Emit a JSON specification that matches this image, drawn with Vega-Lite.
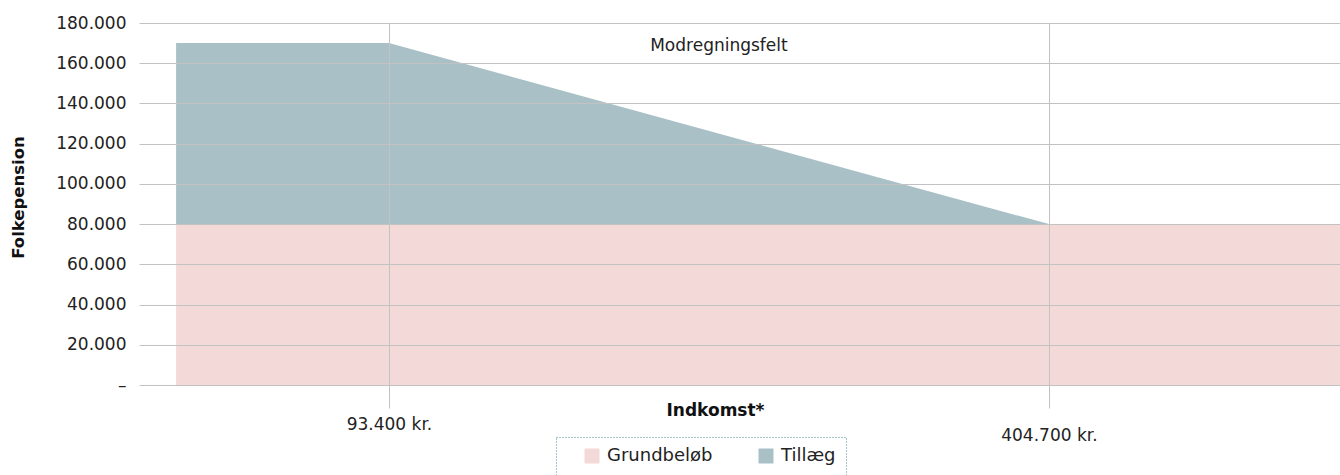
{
  "$schema": "https://vega.github.io/schema/vega-lite/v6.json",
  "width": 1201,
  "height": 362,
  "autosize": {"type": "none"},
  "padding": {"left": 139, "top": 23, "right": 0, "bottom": 90},
  "config": {
    "view": {"stroke": null},
    "font": "DejaVu Sans",
    "axis": {"labelFont": "DejaVu Sans", "titleFont": "DejaVu Sans", "labelColor": "#222222", "titleColor": "#111111"},
    "legend": {"strokeDash": [1, 2], "strokeWidth": 1}
  },
  "datasets": {
    "pension": [
      {"indkomst": -7000, "pension": 80000, "type": "Grundbeløb"},
      {"indkomst": 93400, "pension": 80000, "type": "Grundbeløb"},
      {"indkomst": 404700, "pension": 80000, "type": "Grundbeløb"},
      {"indkomst": 542000, "pension": 80000, "type": "Grundbeløb"},
      {"indkomst": -7000, "pension": 90000, "type": "Tillæg"},
      {"indkomst": 93400, "pension": 90000, "type": "Tillæg"},
      {"indkomst": 404700, "pension": 0, "type": "Tillæg"},
      {"indkomst": 542000, "pension": 0, "type": "Tillæg"}
    ],
    "notes": [
      {"indkomst": 249050, "pension": 168500, "label": "Modregningsfelt"}
    ]
  },
  "layer": [
    {
      "data": {"name": "pension"},
      "mark": {"type": "area", "interpolate": "linear"},
      "encoding": {
        "x": {
          "field": "indkomst", "type": "quantitative",
          "scale": {"domain": [-24500, 542000], "nice": false, "zero": false},
          "axis": {
            "values": [93400, 404700],
            "labelExpr": "replace(format(datum.value, ','), ',', '.') + ' kr.'",
            "grid": true, "gridColor": "#c2c2c2", "gridWidth": 1,
            "ticks": true, "tickSize": 23, "tickColor": "#c2c2c2",
            "domain": false, "zindex": 1,
            "labelFontSize": 17,
            "labelPadding": {"condition": {"test": "datum.value > 200000", "value": 19}, "value": 8},
            "title": "Indkomst*",
            "titleFontSize": 17, "titleFontWeight": "bold",
            "titleX": 576, "titleY": 30, "titleBaseline": "alphabetic"
          }
        },
        "y": {
          "field": "pension", "type": "quantitative", "stack": "zero",
          "scale": {"domain": [0, 180000], "nice": false},
          "axis": {
            "values": [0, 20000, 40000, 60000, 80000, 100000, 120000, 140000, 160000, 180000],
            "labelExpr": "datum.value == 0 ? '–' : replace(format(datum.value, ','), ',', '.')",
            "grid": true, "gridColor": "#c2c2c2", "gridWidth": 1,
            "ticks": false, "domain": false, "zindex": 1,
            "labelFontSize": 17, "labelPadding": 13,
            "title": "Folkepension",
            "titleFontSize": 16.5, "titleFontWeight": "bold",
            "titleX": -121, "titleY": 174, "titleBaseline": "middle", "titleAngle": -90
          }
        },
        "color": {
          "field": "type", "type": "nominal",
          "scale": {"domain": ["Grundbeløb", "Tillæg"], "range": ["#F3D9D7", "#A8C0C6"]},
          "legend": {
            "title": null,
            "orient": "none", "legendX": 417, "legendY": 414,
            "direction": "horizontal",
            "symbolType": "square", "symbolSize": 225, "symbolStrokeWidth": 0,
            "symbolOffset": 17,
            "labelFontSize": 18, "labelFont": "DejaVu Sans", "labelColor": "#222222",
            "labelOffset": 6, "columnPadding": 27,
            "padding": 10,
            "strokeColor": "#4f8d96"
          }
        },
        "order": {"field": "type", "sort": "ascending"}
      }
    },
    {
      "data": {"name": "notes"},
      "mark": {"type": "text", "fontSize": 17, "font": "DejaVu Sans", "color": "#222222", "baseline": "middle", "align": "center"},
      "encoding": {
        "x": {"field": "indkomst", "type": "quantitative"},
        "y": {"field": "pension", "type": "quantitative"},
        "text": {"field": "label"}
      }
    }
  ]
}
